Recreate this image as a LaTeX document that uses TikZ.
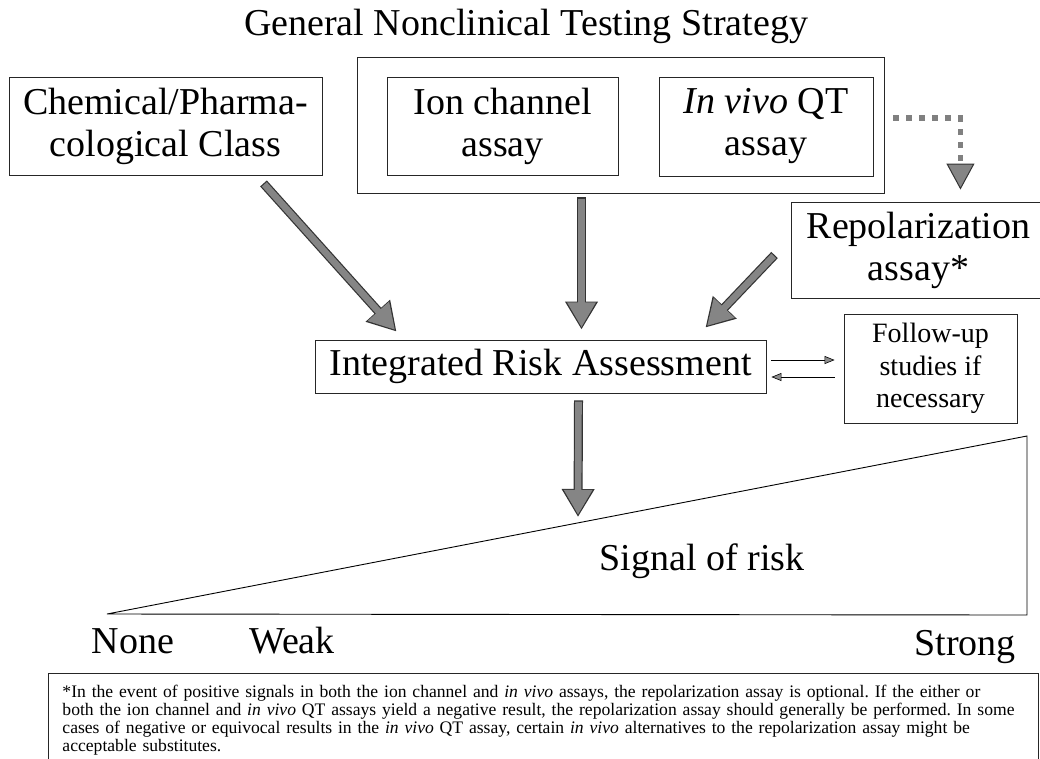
\documentclass[tikz,border=0pt]{standalone}
\usepackage{fontspec}
\setmainfont{Liberation Serif}
\usetikzlibrary{arrows.meta,positioning}

\tikzset{
  box/.style={draw=black!85, line width=0.9pt, align=center, inner sep=0pt},
  bigarrow/.style={draw=black!80, line width=9pt, -{Triangle[length=28pt,width=31pt]},
    postaction={draw=black!48, line width=6.6pt, shorten <=1.2pt, shorten >=2.2pt,
      -{Triangle[length=25pt,width=27pt]}}},
  dotarrow/.style={draw=black!50, line width=5.5pt, dash pattern=on 6pt off 7pt,
    -{Triangle[length=26pt,width=28pt,line width=1pt,fill=black!48,color=black!80]}},
  smallarrow/.style={line width=0.9pt, -{Triangle[length=10pt,width=8pt,line width=0.6pt,fill=black!45,color=black]}},
}

\begin{document}
\begin{tikzpicture}[x=1pt, y=-1pt, font=\fontsize{38}{42}\selectfont]
  \useasboundingbox (0,0) rectangle (1040,758);

  \node[anchor=base] (title) at (526,35) {General Nonclinical Testing Strategy};

  % boxes
  \node[box, minimum width=313pt, minimum height=98pt] (chem) at (165.5,126) {Chemical/Pharma-\\cological Class};
  \node[box, minimum width=527pt, minimum height=136pt] (outer) at (620.5,125) {};
  \node[box, minimum width=231pt, minimum height=98pt] (ion) at (502.5,126) {Ion channel\\assay};
  \node[box, minimum width=214pt, minimum height=99pt] (invivo) at (766,126.5) {\textit{In vivo} QT\\assay};
  \node[box, minimum width=255pt, minimum height=96pt] (repol) at (918.5,250) {Repolarization\\assay*};
  \node[box, minimum width=451pt, minimum height=53pt] (ira) at (540.5,366.5) {Integrated Risk Assessment};
  \node[box, minimum width=173pt, minimum height=109pt, font=\fontsize{28}{32.5}\selectfont] (follow) at (930.5,368.5) {Follow-up\\studies if\\necessary};

  % signal of risk wedge
  \coordinate (lo) at (107,614);
  \coordinate (hi) at (1027,436);
  \coordinate (rt) at (1027,615);
  \coordinate (tip) at (578,517);
  \draw[line width=0.9pt] (lo) -- (hi) -- (rt) -- cycle;
  \node[anchor=base] (signal) at (702,570) {Signal of risk};
  \node[anchor=base] (none) at (133,653) {None};
  \node[anchor=base] (weak) at (292,653) {Weak};
  \node[anchor=base] (strong) at (965,655) {Strong};

  % arrows
  \draw[bigarrow] ([xshift=98pt,yshift=-8pt]chem.south) -- ([xshift=-144pt,yshift=8pt]ira.north);
  \draw[bigarrow] ([xshift=-39pt,yshift=-4pt]outer.south) -- ([xshift=41pt,yshift=10pt]ira.north);
  \draw[bigarrow] ([xshift=-16pt,yshift=-5pt]repol.west) -- ([xshift=-61pt,yshift=12pt]ira.north east);
  \draw[bigarrow] ([xshift=38pt,yshift=-7pt]ira.south) -- (tip);
  \draw[dotarrow] ([xshift=9pt,yshift=7pt]outer.east) -| ([xshift=-86pt,yshift=12pt]repol.north east);
  \draw[smallarrow] ([xshift=5pt,yshift=6.5pt]ira.east) -- ([xshift=-9pt,yshift=8.5pt]follow.west);
  \draw[smallarrow] ([xshift=-9pt,yshift=-8.5pt]follow.west) -- ([xshift=5pt,yshift=-10.5pt]ira.east);

  % footnote
  \node[draw=black!85, line width=0.9pt, anchor=north west, minimum width=990pt,
        inner xsep=14pt, inner ysep=12pt, align=left, text width=962pt,
        font=\frenchspacing\fontsize{17.6}{18}\selectfont] (note) at (48,673)
    {*In the event of positive signals in both the ion channel and \textit{in vivo} assays, the repolarization assay is optional. If the either or\\
     both the ion channel and \textit{in vivo} QT assays yield a negative result, the repolarization assay should generally be performed. In some\\
     cases of negative or equivocal results in the \textit{in vivo} QT assay, certain \textit{in vivo} alternatives to the repolarization assay might be\\
     acceptable substitutes.};
\end{tikzpicture}
\end{document}
